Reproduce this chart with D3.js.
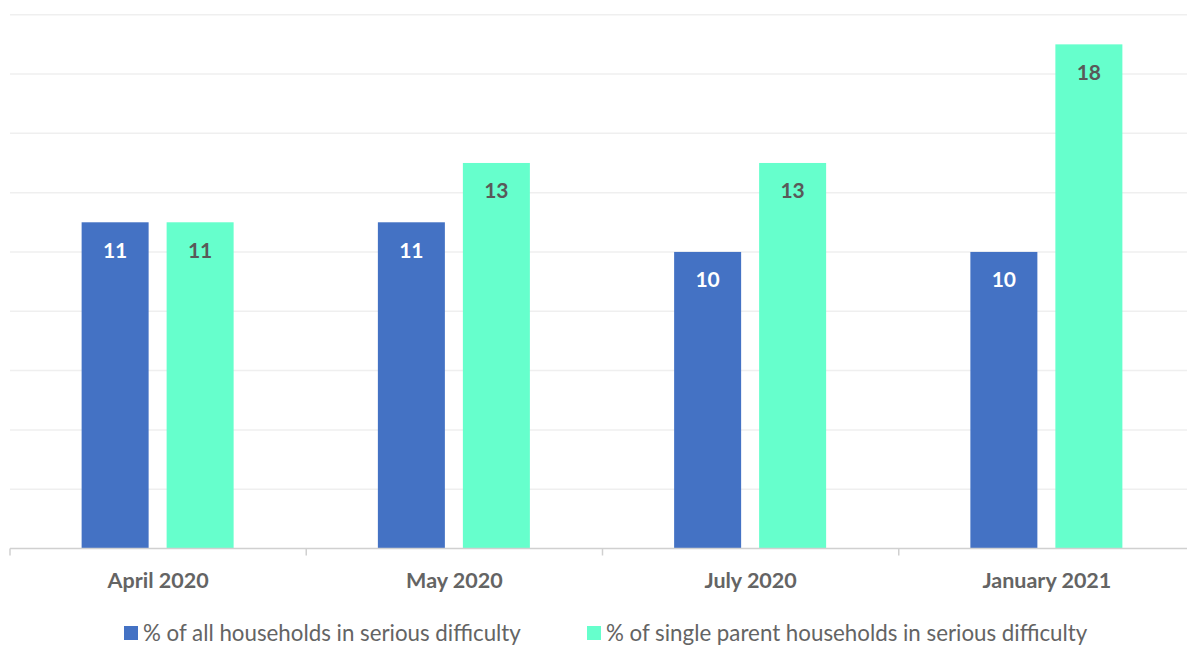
<!DOCTYPE html>
<html>
<head>
<meta charset="utf-8">
<script src="https://cdn.jsdelivr.net/npm/d3@7"></script>
<style>
  body { margin: 0; background: #fff; }
  svg text { font-family: Lato, "Open Sans", sans-serif; }
</style>
</head>
<body>
<div id="container"></div>
<script>
// data
const categories = ["April 2020", "May 2020", "July 2020", "January 2021"]
const seriesNames = [
    "% of all households in serious difficulty",
    "% of single parent households in serious difficulty"
]
const allHouseholds = [11, 11, 10, 10]
const singleParent = [11, 13, 13, 17]
// labels printed on bars (last bar is drawn at ~17 but labelled 18)
const allLabels = ["11", "11", "10", "10"]
const singleLabels = ["11", "13", "13", "18"]
const yTicks = [0, 2, 4, 6, 8, 10, 12, 14, 16, 18]

const colors = ["#4472c4", "#66ffcc"]

const W = 1187, H = 646
const margin = { top: 14.7, right: -8, bottom: 97.5, left: 10 }
const width = W - margin.left - margin.right
const height = H - margin.top - margin.bottom

const svg = d3.select("#container")
    .append("svg")
    .attr("width", W)
    .attr("height", H)

const g = svg.append("g")
    .attr("transform", `translate(${margin.left}, ${margin.top})`)

const x = d3.scaleBand()
    .domain(categories)
    .range([0, width])

const y = d3.scaleLinear()
    .domain([0, 18])
    .range([height, 0])

/* GRID LINES */
g.selectAll(".grid")
    .data(yTicks.slice(1))
    .join("line")
    .attr("x1", 0)
    .attr("x2", width)
    .attr("y1", d => y(d))
    .attr("y2", d => y(d))
    .attr("stroke", "#efefef")
    .attr("stroke-width", 1.5)

/* BARS */
const barW = 67, gap = 18
const series = [
    { values: allHouseholds, labels: allLabels, color: colors[0], text: "#ffffff", off: -(barW + gap / 2) - 0.5 },
    { values: singleParent, labels: singleLabels, color: colors[1], text: "#595959", off: gap / 2 - 0.5 }
]

series.forEach(s => {
    g.selectAll(null)
        .data(categories)
        .join("rect")
        .attr("x", (d, i) => x(d) + x.bandwidth() / 2 + s.off)
        .attr("y", (d, i) => y(s.values[i]))
        .attr("width", barW)
        .attr("height", (d, i) => height - y(s.values[i]))
        .attr("fill", s.color)

    g.selectAll(null)
        .data(categories)
        .join("text")
        .attr("x", (d, i) => x(d) + x.bandwidth() / 2 + s.off + barW / 2)
        .attr("y", (d, i) => y(s.values[i]) + 35.5)
        .attr("text-anchor", "middle")
        .style("font-size", "21px")
        .style("font-weight", "bold")
        .style("fill", s.text)
        .text((d, i) => s.labels[i])
})

/* X AXIS */
const xAxis = g.append("g")
    .attr("transform", `translate(0, ${height})`)

xAxis.append("line")
    .attr("x1", 0)
    .attr("x2", width)
    .attr("stroke", "#d0d0d0")
    .attr("stroke-width", 1.5)

xAxis.selectAll(".tick")
    .data(categories)
    .join("line")
    .attr("x1", d => x(d))
    .attr("x2", d => x(d))
    .attr("y1", 0)
    .attr("y2", 7)
    .attr("stroke", "#d0d0d0")
    .attr("stroke-width", 1.5)

xAxis.selectAll(".lbl")
    .data(categories)
    .join("text")
    .attr("x", d => x(d) + x.bandwidth() / 2)
    .attr("y", 39)
    .attr("text-anchor", "middle")
    .style("font-size", "21.5px")
    .style("font-weight", "bold")
    .style("fill", "#646464")
    .text(d => d)

/* LEGEND */
const legendX = [124, 587]
const legend = svg.append("g")
series.forEach((s, i) => {
    legend.append("rect")
        .attr("x", legendX[i])
        .attr("y", 626)
        .attr("width", 14)
        .attr("height", 14)
        .attr("fill", s.color)
    legend.append("text")
        .attr("x", legendX[i] + 19)
        .attr("y", 641)
        .style("font-size", "22.3px")
        .style("fill", "#646464")
        .text(seriesNames[i])
})
</script>
</body>
</html>
